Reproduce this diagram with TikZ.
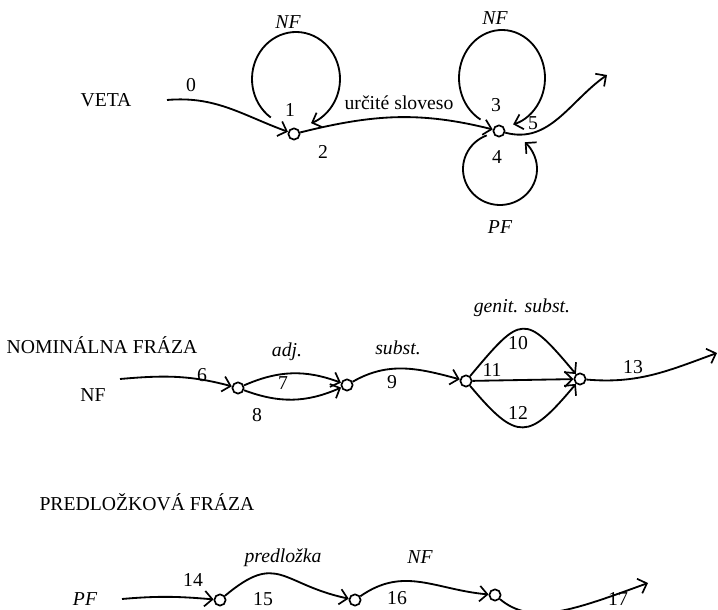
\documentclass[tikz,border=0pt]{standalone}
\usepackage{fontspec}
\setmainfont{Liberation Serif}
\usetikzlibrary{arrows.meta, positioning}

\begin{document}
\begin{tikzpicture}[
  x=0.025cm, y=0.025cm,
  font=\fontsize{14}{16}\selectfont,
  %% ── node styles ────────────────────────────────────────────────────
  %% Small state circles
  st/.style ={circle, draw, fill=white, line width=1.2pt,
              inner sep=0pt, minimum size=8pt},
  %% Arc numbers and plain texts
  num/.style={inner sep=1pt},
  %% Category names on arcs (italic)
  cat/.style={inner sep=1pt, font=\fontsize{14}{16}\selectfont\itshape},
  %% Arrows
  arr/.style={-{Straight Barb[length=5.5pt,width=11pt,line width=1.2pt]},
              line width=1.3pt},
]
\useasboundingbox (0,0) rectangle (718,610);

%% ════════════════════════════════════════════════════════════════════
%% VETA
%% ════════════════════════════════════════════════════════════════════
\node[num] (veta) at (106,510) {VETA};
\coordinate (in0)  at (167,510);
\node[st]  (s1)   at (294,476) {};
\node[st]  (s3)   at (499,479) {};
\coordinate (out5) at (607,535);

%% loop centres
\coordinate (c1)  at (296,531);
\coordinate (c3)  at (502,532);
\coordinate (c4)  at (500,441);

\draw[arr] (in0) to[out=5, in=160] (s1);
\draw[arr] ([shift={(235:44 and 47)}]c1)
  arc[start angle=235, end angle=-70, x radius=44, y radius=47];
\draw[arr] (s1) to[out=14, in=166] (s3);
\draw[arr] ([shift={(240:43 and 48)}]c3)
  arc[start angle=240, end angle=-75, x radius=43, y radius=48];
\draw[arr] ([shift={(111:37 and 36)}]c4)
  arc[start angle=111, end angle=408, x radius=37, y radius=36];
\draw[arr] (s3) to[out=-15, in=215] (out5);

\node[cat] (nf1)  at (288,588) {NF};
\node[cat] (nf3)  at (495,592) {NF};
\node[cat] (pf4)  at (500,383) {PF};
\node[num] (verb) at (399,507) {určité sloveso};

\foreach \t/\x/\y in {0/191/525, 1/290/500, 2/323/458,
                      3/496/505, 4/497/453, 5/533/487}
  \node[num] (l\t) at (\x,\y) {\t};

%% ════════════════════════════════════════════════════════════════════
%% NOMINÁLNA FRÁZA
%% ════════════════════════════════════════════════════════════════════
\node[num] (nomfr) at (102,265) {NOMINÁLNA FRÁZA};
\node[num] (nf)    at (93,215)  {NF};
\coordinate (in6)  at (120,231);
\node[st]  (a)     at (238,222) {};
\node[st]  (b)     at (347,225) {};
\node[st]  (c)     at (466,229) {};
\node[st]  (d)     at (580,231) {};
\coordinate (out13) at (717,257);

\draw[arr] (in6) to[out=5, in=165] (a);
\draw[arr] (a) to[bend left=22]  (b);
\draw[arr] (a) to[bend right=22] (b);
\draw[arr] (b) to[out=30, in=165] (c);
\draw[arr] (c) .. controls +(50:2.17cm)  and +(130:2.17cm)  .. (d);
\draw[arr] (c) -- (d);
\draw[arr] (c) .. controls +(-50:2.0cm) and +(-130:2.0cm) .. (d);
\draw[arr] (d) to[out=-5, in=200] (out13);

\node[cat] (adj)   at (287,258) {adj.};
\node[cat] (subst) at (398,262) {subst.};
\node[cat] (gen)   at (522,302) {genit. subst.};

\foreach \t/\x/\y in {6/202/235, 7/283/227, 8/257/195, 9/392/228,
                      10/518/267, 11/492/240, 12/518/197, 13/633/243}
  \node[num] (l\t) at (\x,\y) {\t};

%% ════════════════════════════════════════════════════════════════════
%% PREDLOŽKOVÁ FRÁZA
%% ════════════════════════════════════════════════════════════════════
\node[num] (predfr) at (147,108) {PREDLOŽKOVÁ FRÁZA};
\node[cat] (pf)     at (85,11)   {PF};
\coordinate (in14)  at (122,11);
\node[st]  (p1)     at (220,10)  {};
\node[st]  (p2)     at (355,10)  {};
\node[st]  (p3)     at (495,15)  {};
\coordinate (out17) at (648,27);

\draw[arr] (in14) to[out=5, in=175] (p1);
\draw[arr] (p1) .. controls +(40:1.9cm) and +(168:1.9cm) .. (p2);
\draw[arr] (p2) .. controls +(35:1.5cm) and +(175:1.5cm) .. (p3);
\draw[arr] (p3) .. controls +(-40:1.2cm) and +(200:2.0cm) .. (out17);

\node[cat] (prep) at (283,52) {predložka};
\node[cat] (nf16) at (420,53) {NF};

\foreach \t/\x/\y in {14/193/30, 15/263/11, 16/397/12, 17/618/11}
  \node[num] (l\t) at (\x,\y) {\t};

\end{tikzpicture}
\end{document}
